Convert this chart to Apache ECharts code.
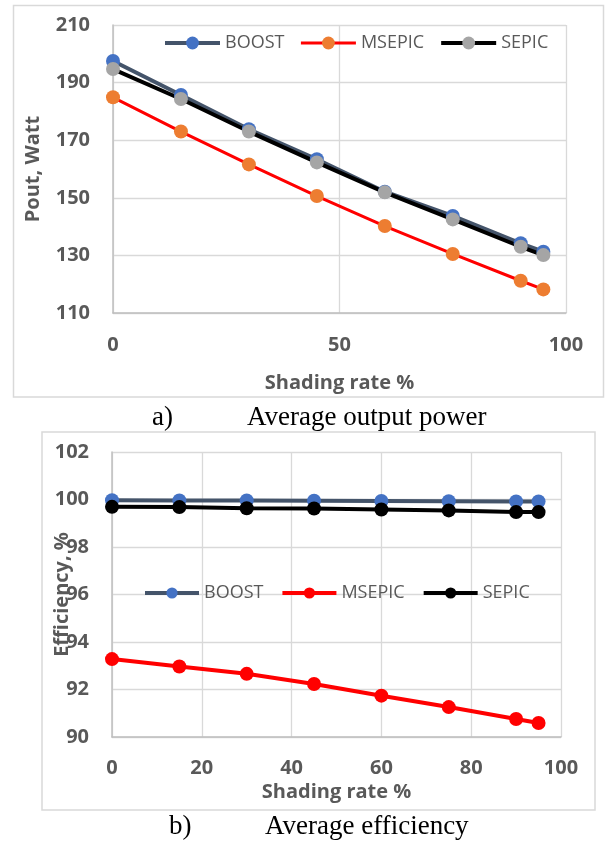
<!DOCTYPE html>
<html>
<head>
<meta charset="utf-8">
<script src="https://cdn.jsdelivr.net/npm/echarts@6/dist/echarts.min.js"></script>
<style>
  html, body { margin: 0; padding: 0; background: #ffffff; }
  .panel { position: absolute; left: 0; top: 0; width: 610px; height: 843px; }
</style>
</head>
<body>
<div id="power" class="panel"></div>
<div id="eff" class="panel"></div>
<script>
// Shading rate (%) shared by both plots
const shadingRate = [0, 15, 30, 45, 60, 75, 90, 95];

// Average output power, W
const powerBoost  = [197.5, 185.7, 173.8, 163.4, 152.1, 143.7, 134.2, 131.3];
const powerMsepic = [184.9, 173.0, 161.6, 150.6, 140.2, 130.5, 121.2, 118.2];
const powerSepic  = [194.7, 184.3, 173.0, 162.3, 151.9, 142.5, 133.0, 130.1];

// Average efficiency, %
const effBoost  = [99.97, 99.96, 99.96, 99.95, 99.94, 99.93, 99.92, 99.92];
const effMsepic = [93.28, 92.97, 92.66, 92.23, 91.74, 91.26, 90.76, 90.59];
const effSepic  = [99.69, 99.68, 99.63, 99.62, 99.58, 99.54, 99.47, 99.47];

const seriesNames = ['BOOST', 'MSEPIC', 'SEPIC'];
const powerTicks = { min: 110, max: 210, interval: 20 };
const effTicks = { min: 90, max: 102, interval: 2 };

const FONT = 'Open Sans';
const GREY_TEXT = '#595959';
const GRID_LINE = '#D9D9D9';
const AXIS_LINE = '#BFBFBF';

function pairs(xs, ys) {
  return xs.map((x, i) => [x, ys[i]]);
}

function lineSeries(name, ys, lineColor, markerColor, width, size) {
  return {
    name: name,
    type: 'line',
    data: pairs(shadingRate, ys),
    symbol: 'circle',
    symbolSize: size,
    showAllSymbol: true,
    lineStyle: { color: lineColor, width: width },
    itemStyle: { color: markerColor, borderWidth: 0 },
    emphasis: { disabled: true },
    animation: false
  };
}

function valueAxis(extra) {
  return Object.assign({
    type: 'value',
    axisTick: { show: false },
    axisLine: { show: true, lineStyle: { color: AXIS_LINE, width: 1.5 } },
    splitLine: { show: true, lineStyle: { color: GRID_LINE, width: 1.3 } },
    nameLocation: 'middle',
    nameTextStyle: { fontFamily: FONT, fontWeight: 'bold', fontSize: 20, color: GREY_TEXT }
  }, extra);
}

function tickLabels(margin) {
  return { fontFamily: FONT, fontWeight: 'bold', fontSize: 20, color: GREY_TEXT, margin: margin };
}

function caption(letter, text, letterX, textX, top) {
  const style = { fontFamily: 'Liberation Serif', fontWeight: 'normal', fontSize: 27, color: '#000000', lineHeight: 27 };
  return [
    { text: letter, left: letterX, top: top, padding: 0, textStyle: style },
    { text: text, left: textX, top: top, padding: 0, textStyle: style }
  ];
}

function frame(x, y, w, h) {
  return {
    type: 'rect',
    shape: { x: x, y: y, width: w, height: h },
    style: { fill: null, stroke: GRID_LINE, lineWidth: 1.5 },
    silent: true,
    z: -1
  };
}

function legend(left, top, itemWidth, itemHeight, itemGap) {
  return {
    data: seriesNames,
    left: left, top: top, padding: 0,
    itemWidth: itemWidth, itemHeight: itemHeight, itemGap: itemGap,
    selectedMode: false,
    lineStyle: { width: 'inherit' },
    textStyle: { fontFamily: FONT, fontSize: 18, color: GREY_TEXT }
  };
}

// Upper panel: average output power
const powerChart = echarts.init(document.getElementById('power'), null, { renderer: 'canvas' });
powerChart.setOption({
  animation: false,
  backgroundColor: 'transparent',
  title: caption('a)', 'Average output power', 152, 247, 404),
  graphic: [frame(13.5, 5.5, 590, 391.5)],
  grid: { left: 113, top: 25, width: 453, height: 288 },
  legend: legend(163, 34, 55, 16, 15),
  xAxis: valueAxis({
    min: 0, max: 100, interval: 50,
    name: 'Shading rate %', nameGap: 60,
    axisLabel: tickLabels(22)
  }),
  yAxis: valueAxis({
    min: powerTicks.min, max: powerTicks.max, interval: powerTicks.interval,
    name: 'Pout, Watt', nameGap: 70,
    axisLabel: tickLabels(23)
  }),
  series: [
    lineSeries('BOOST', powerBoost, '#44546A', '#4472C4', 4, 14),
    lineSeries('MSEPIC', powerMsepic, '#FF0000', '#ED7D31', 3, 14),
    lineSeries('SEPIC', powerSepic, '#000000', '#A5A5A5', 4, 14)
  ]
});

// Lower panel: average efficiency
const effChart = echarts.init(document.getElementById('eff'), null, { renderer: 'canvas' });
effChart.setOption({
  animation: false,
  backgroundColor: 'transparent',
  title: caption('b)', 'Average efficiency', 169, 265, 813),
  graphic: [frame(42, 432, 553, 378)],
  grid: { left: 112, top: 452, width: 449, height: 285 },
  legend: legend(143, 584, 54, 14, 17),
  xAxis: valueAxis({
    min: 0, max: 100, interval: 20,
    name: 'Shading rate %', nameGap: 45,
    axisLabel: tickLabels(21)
  }),
  yAxis: valueAxis({
    min: effTicks.min, max: effTicks.max, interval: effTicks.interval,
    name: 'Efficiency, %', nameGap: 40, nameMoveOverlap: false,
    axisLabel: tickLabels(23)
  }),
  series: [
    lineSeries('BOOST', effBoost, '#44546A', '#4472C4', 4, 14),
    lineSeries('MSEPIC', effMsepic, '#FF0000', '#FF0000', 4, 14),
    lineSeries('SEPIC', effSepic, '#000000', '#000000', 4, 14)
  ]
});
</script>
</body>
</html>
